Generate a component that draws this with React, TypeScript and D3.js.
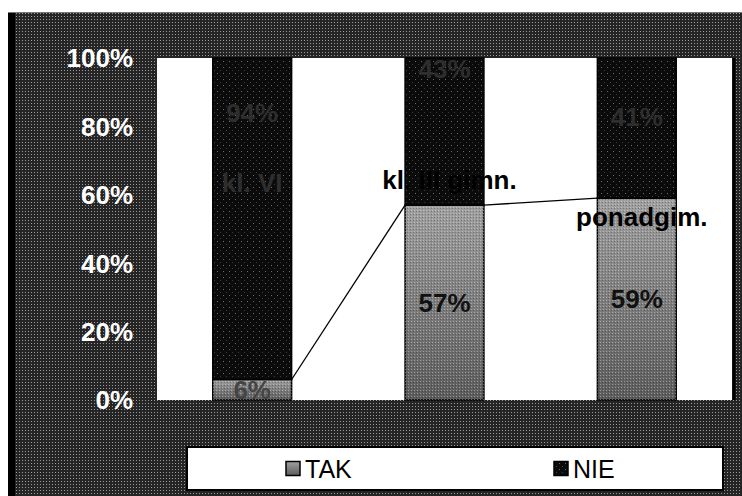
import * as d3 from "d3"

// survey answers per school level (percent)
const categories = ["kl. VI", "kl. III gimn.", "ponadgim."]
const takValues = [6, 57, 59]
const nieValues = [94, 43, 41]
const yTicks = [0, 20, 40, 60, 80, 100]
const seriesNames = ["TAK", "NIE"]

// where the hand-placed labels sit, in value units (0-100)
const nameLabelAt = [63.5, 64.5, 53.5]
const nieLabelAt = [84, 97, 83]

const W = 742
const H = 496
const FONT = "'Liberation Sans', Arial, sans-serif"

export default function App() {
  const plot = { left: 157, right: 732, top: 58, bottom: 400 }

  const x = d3
    .scaleBand<string>()
    .domain(categories)
    .range([plot.left, plot.right])
    .paddingInner(0.59)
    .paddingOuter(0.29)

  const y = d3.scaleLinear().domain([0, 100]).range([plot.bottom, plot.top])

  const bw = x.bandwidth()

  // series lines between the tops of the TAK segments
  const seriesLines = d3.pairs(categories.map((c, i) => ({ c, v: takValues[i] })))

  const legend = { left: 187, right: 723, top: 447, bottom: 490 }
  const lx = d3.scaleBand<string>().domain(seriesNames).range([legend.left, legend.right])
  const legendTextW = (s: string) => s.length * 17

  return (
    <svg
      width={W}
      height={H}
      style={{ position: "absolute", left: 0, top: 0, background: "#fff" }}
      fontFamily={FONT}
    >
      <defs>
        <pattern id="bgDots" width={3} height={3} patternUnits="userSpaceOnUse">
          <rect width={3} height={3} fill="#252525" />
          <rect x={1} y={1} width={1} height={1} fill="#9a9a9a" />
        </pattern>
        <pattern id="nieDots" width={6} height={6} patternUnits="userSpaceOnUse">
          <rect width={6} height={6} fill="#0b0b0b" />
          <rect x={1} y={1} width={1} height={1} fill="#6a6a6a" />
          <rect x={4} y={4} width={1} height={1} fill="#3a3a3a" />
        </pattern>
        <pattern id="takDots" width={3} height={3} patternUnits="userSpaceOnUse">
          <rect x={0} y={0} width={1} height={1} fill="#fff" opacity={0.35} />
          <rect x={2} y={1} width={1} height={1} fill="#000" opacity={0.25} />
        </pattern>
        <linearGradient id="takGrad" x1="0" y1="0" x2="0" y2="1">
          <stop offset="0%" stopColor="#a0a0a0" />
          <stop offset="100%" stopColor="#5c5c5c" />
        </linearGradient>
      </defs>

      {/* scanned dark frame */}
      <rect x={8} y={12} width={W - 8} height={H - 12} fill="url(#bgDots)" />
      <rect x={8} y={12} width={7} height={H - 12} fill="#000" />
      <line x1={8} x2={W} y1={12.5} y2={12.5} stroke="#777" />

      {/* plot area */}
      <rect
        x={plot.left}
        y={plot.top}
        width={plot.right - plot.left}
        height={plot.bottom - plot.top}
        fill="#fff"
      />
      <line x1={plot.right + 2} x2={plot.right + 2} y1={plot.top} y2={plot.bottom} stroke="#000" strokeWidth={3} />

      {/* y axis labels */}
      {yTicks.map((t) => (
        <text
          key={t}
          x={133}
          y={y(t)}
          dy="0.36em"
          textAnchor="end"
          fill="#fff"
          fontWeight="bold"
          fontSize={26}
        >
          {t}%
        </text>
      ))}

      {/* stacked bars */}
      {categories.map((c, i) => {
        const x0 = x(c)!
        return (
          <g key={c}>
            <rect
              x={x0}
              y={y(takValues[i])}
              width={bw}
              height={y(0) - y(takValues[i])}
              fill="url(#takGrad)"
              stroke="#000"
              strokeWidth={1.5}
            />
            <rect
              x={x0}
              y={y(takValues[i])}
              width={bw}
              height={y(0) - y(takValues[i])}
              fill="url(#takDots)"
            />
            <rect
              x={x0}
              y={y(takValues[i] + nieValues[i])}
              width={bw}
              height={y(takValues[i]) - y(takValues[i] + nieValues[i])}
              fill="url(#nieDots)"
              stroke="#000"
              strokeWidth={1.5}
            />
          </g>
        )
      })}

      {/* series lines */}
      {seriesLines.map(([a, b]) => (
        <line
          key={a.c}
          x1={x(a.c)! + bw}
          y1={y(a.v)}
          x2={x(b.c)!}
          y2={y(b.v)}
          stroke="#000"
          strokeWidth={1.3}
        />
      ))}

      {/* percent labels */}
      {categories.map((c, i) => (
        <g key={c} fontWeight="bold" fontSize={26} textAnchor="middle">
          <text x={x(c)! + bw / 2} y={y(takValues[i] / 2)} dy="0.36em" fill={takValues[i] < 10 ? "#444" : "#111"}>
            {takValues[i]}%
          </text>
          <text x={x(c)! + bw / 2} y={y(nieLabelAt[i])} dy="0.36em" fill="#2e2e2e">
            {nieValues[i]}%
          </text>
        </g>
      ))}

      {/* category name labels */}
      {categories.map((c, i) => {
        const fitsInBar = c.length * 12 < bw
        return (
          <text
            key={c}
            x={x(c)! + bw / 2 + (fitsInBar ? 0 : 5)}
            y={y(nameLabelAt[i])}
            dy="0.36em"
            textAnchor="middle"
            fontWeight="bold"
            fontSize={26}
            fill={fitsInBar ? "#2e2e2e" : "#000"}
          >
            {c}
          </text>
        )
      })}

      {/* legend */}
      <rect
        x={legend.left}
        y={legend.top}
        width={legend.right - legend.left}
        height={legend.bottom - legend.top}
        fill="#fff"
        stroke="#000"
        strokeWidth={2}
      />
      {seriesNames.map((s) => {
        const itemW = 14 + 5 + legendTextW(s)
        const sx = lx(s)! + lx.bandwidth() / 2 - itemW / 2
        const cy = (legend.top + legend.bottom) / 2
        return (
          <g key={s}>
            <rect
              x={sx}
              y={cy - 7}
              width={14}
              height={14}
              fill={s === "TAK" ? "url(#takGrad)" : "url(#nieDots)"}
              stroke="#000"
              strokeWidth={1.5}
            />
            <text x={sx + 19} y={cy} dy="0.36em" fontSize={25} fill="#000">
              {s}
            </text>
          </g>
        )
      })}
    </svg>
  )
}
